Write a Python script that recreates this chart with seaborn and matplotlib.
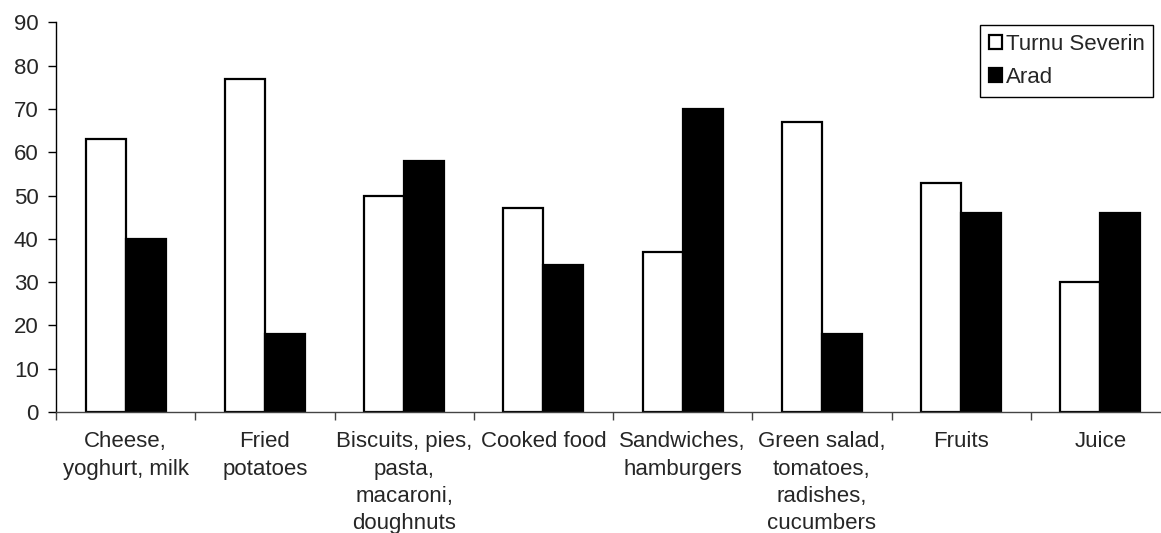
import matplotlib
matplotlib.use("Agg")
import matplotlib.pyplot as plt
import seaborn as sns
import pandas as pd
import numpy as np

categories = [
    "Cheese,\nyoghurt, milk",
    "Fried\npotatoes",
    "Biscuits, pies,\npasta,\nmacaroni,\ndoughnuts",
    "Cooked food",
    "Sandwiches,\nhamburgers",
    "Green salad,\ntomatoes,\nradishes,\ncucumbers",
    "Fruits",
    "Juice",
]
turnu_severin = [63, 77, 50, 47, 37, 67, 53, 30]
arad = [40, 18, 58, 34, 70, 18, 46, 46]
series_names = ["Turnu Severin", "Arad"]
y_ticks = [0, 10, 20, 30, 40, 50, 60, 70, 80, 90]

df = pd.DataFrame({
    "category": categories * 2,
    "value": turnu_severin + arad,
    "series": [series_names[0]] * len(categories) + [series_names[1]] * len(categories),
})

sns.set_style("white")
plt.rcParams['font.family'] = ['Liberation Sans', 'DejaVu Sans']

FS = 16
W, H = 1161, 533
fig = plt.figure(figsize=(W / 100, H / 100), dpi=100)
ax_left, ax_right, ax_top, ax_bottom = 56, 1170, 22.3, 412
ax = fig.add_axes([ax_left / W, 1 - ax_bottom / H, (ax_right - ax_left) / W, (ax_bottom - ax_top) / H])

sns.barplot(data=df, x="category", y="value", hue="series", order=categories,
            hue_order=series_names, palette=["white", "black"], edgecolor="black",
            linewidth=1.6, width=0.575, gap=0, ax=ax, legend=True)

ax.set_xlim(-0.5, len(categories) - 0.5)
ax.set_ylim(0, 90)
ax.set_yticks(y_ticks)
ax.set_xlabel("")
ax.set_ylabel("")

# x ticks at category boundaries
ax.set_xticks(np.arange(len(categories)), labels=categories)
ax.set_xticks(np.arange(-0.5, len(categories), 1.0), minor=True)
ax.tick_params(axis="x", which="major", bottom=True, length=0, pad=14, labelsize=FS)
ax.tick_params(axis="x", which="minor", bottom=True, length=5.5, width=1, color="#444444", direction="out")
ax.tick_params(axis="y", which="major", left=True, length=5.5, width=1, color="black", direction="out",
               pad=7, labelsize=FS)
for lbl in ax.get_xticklabels():
    lbl.set_multialignment("center")
    lbl.set_linespacing(1.38)

sns.despine(ax=ax, top=True, right=True)
ax.spines["left"].set_color("black")
ax.spines["bottom"].set_color("#444444")
ax.spines["left"].set_linewidth(1)
ax.spines["bottom"].set_linewidth(1)

handles, labels = ax.get_legend_handles_labels()
ax.legend(handles, labels, loc="upper left", bbox_to_anchor=(980 / W, 1 - 25 / H),
          bbox_transform=fig.transFigure, borderaxespad=0, frameon=True, fancybox=False,
          edgecolor="black", fontsize=FS, handlelength=0.6, handleheight=0.6,
          handletextpad=0.15, labelspacing=0.55, borderpad=0.4, framealpha=1)
ax.get_legend().get_frame().set_linewidth(1)

fig.savefig("out.png", dpi=100)
